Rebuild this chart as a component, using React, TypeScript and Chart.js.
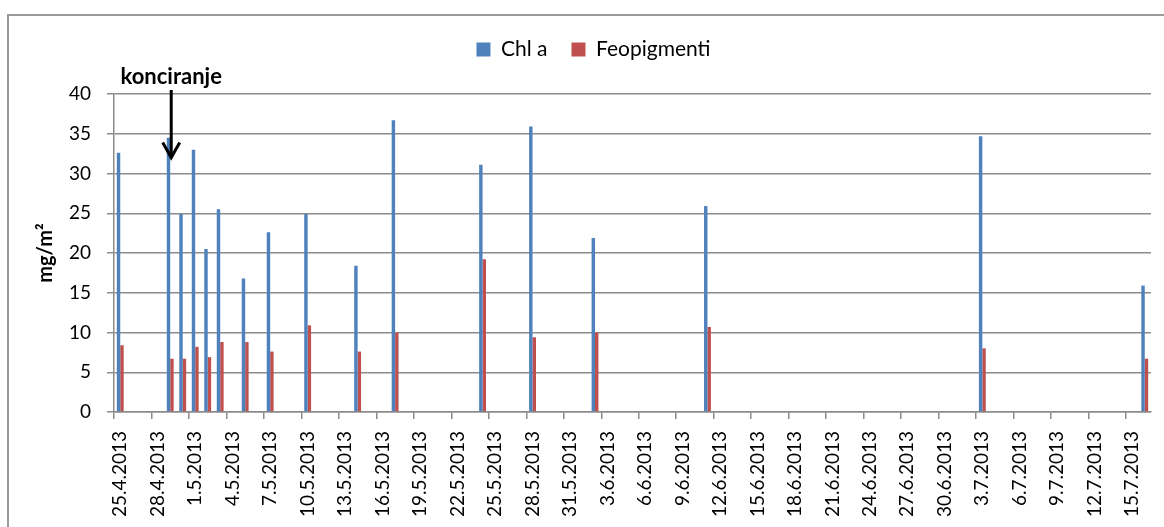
import React, { useEffect, useRef } from 'react';
import { Chart, registerables } from 'chart.js';

Chart.register(...registerables);

// First day of the daily date axis and number of days shown
const START_YEAR = 2013;
const START_MONTH = 4; // April
const START_DAY = 25;
const DAY_COUNT = 83; // 25.4.2013 .. 16.7.2013

// Sampling dates and measured values (mg/m²)
const sampleDates = [
  '25.4.2013', '29.4.2013', '30.4.2013', '1.5.2013', '2.5.2013', '3.5.2013',
  '5.5.2013', '7.5.2013', '10.5.2013', '14.5.2013', '17.5.2013', '24.5.2013',
  '28.5.2013', '2.6.2013', '11.6.2013', '3.7.2013', '16.7.2013',
];
const chlaValues = [
  32.6, 34.5, 24.9, 33.0, 20.5, 25.5, 16.8, 22.6, 24.9, 18.4, 36.7, 31.1,
  35.9, 21.9, 25.9, 34.7, 15.9,
];
const feoValues = [
  8.4, 6.7, 6.7, 8.2, 6.9, 8.8, 8.8, 7.6, 10.9, 7.6, 10.0, 19.2,
  9.4, 10.0, 10.7, 8.0, 6.7,
];

const seriesNames = ['Chl a', 'Feopigmenti'];
const seriesColors = ['#4F81BD', '#C0504D'];

// y axis
const Y_MIN = 0;
const Y_MAX = 40;
const Y_STEP = 5;
const yTitle = 'mg/m²';

// annotation
const annotationText = 'konciranje';
const annotationDate = '29.4.2013';
const annotationArrowTop = 40.5;
const annotationArrowTip = 32;
const annotationTextBaseline = 41.2;

const LABEL_EVERY = 3;

function buildDayLabels(): string[] {
  const out: string[] = [];
  for (let i = 0; i < DAY_COUNT; i++) {
    const d = new Date(Date.UTC(START_YEAR, START_MONTH - 1, START_DAY + i));
    out.push(`${d.getUTCDate()}.${d.getUTCMonth() + 1}.${d.getUTCFullYear()}`);
  }
  return out;
}

const FONT = 'Lato, "Liberation Sans", sans-serif';
const GRID = '#8c8c8c';
const LEGEND_HEIGHT = 79;
const LEGEND_SHIFT = 18;

export default function App() {
  const canvasRef = useRef<HTMLCanvasElement | null>(null);

  useEffect(() => {
    const canvas = canvasRef.current;
    if (!canvas) return;
    const dayLabels = buildDayLabels();
    const toSeries = (vals: number[]) =>
      dayLabels.map((lab) => {
        const k = sampleDates.indexOf(lab);
        return k >= 0 ? vals[k] : null;
      });

    const legendLayoutPlugin = {
      id: 'legendLayout',
      afterInit(chart: any) {
        const legend = chart.legend;
        if (!legend) return;
        const orig = legend.fit.bind(legend);
        legend.fit = function () {
          orig();
          this.height = LEGEND_HEIGHT;
        };
      },
      afterLayout(chart: any) {
        const legend = chart.legend;
        if (!legend) return;
        legend.left += LEGEND_SHIFT;
        legend.right += LEGEND_SHIFT;
      },
    };

    const annotationPlugin = {
      id: 'konciranje',
      afterDatasetsDraw(chart: any) {
        const { ctx, scales } = chart;
        const xs = scales.x;
        const ys = scales.y;
        const idx = dayLabels.indexOf(annotationDate);
        const x = xs.getPixelForValue(idx) + 1;
        const yTop = ys.getPixelForValue(annotationArrowTop);
        const yTip = ys.getPixelForValue(annotationArrowTip);
        const yText = ys.getPixelForValue(annotationTextBaseline);
        ctx.save();
        ctx.fillStyle = '#000';
        ctx.font = `bold 22px ${FONT}`;
        ctx.textAlign = 'center';
        ctx.textBaseline = 'alphabetic';
        ctx.fillText(annotationText, x, yText);
        ctx.strokeStyle = '#000';
        ctx.lineWidth = 3;
        ctx.beginPath();
        ctx.moveTo(x, yTop);
        ctx.lineTo(x, yTip - 1);
        ctx.stroke();
        ctx.beginPath();
        ctx.moveTo(x - 8.5, yTip - 15);
        ctx.lineTo(x, yTip);
        ctx.lineTo(x + 8.5, yTip - 15);
        ctx.stroke();
        ctx.restore();
      },
    };

    const chart = new Chart(canvas, {
      type: 'bar',
      data: {
        labels: dayLabels,
        datasets: [
          {
            label: seriesNames[0],
            data: toSeries(chlaValues),
            backgroundColor: seriesColors[0],
            borderWidth: 0,
            barPercentage: 1,
            categoryPercentage: 0.55,
          },
          {
            label: seriesNames[1],
            data: toSeries(feoValues),
            backgroundColor: seriesColors[1],
            borderWidth: 0,
            barPercentage: 1,
            categoryPercentage: 0.55,
          },
        ],
      },
      options: {
        responsive: false,
        animation: false,
        layout: { padding: { top: 15, right: 13, left: 0, bottom: 0 } },
        plugins: {
          legend: {
            display: true,
            position: 'top',
            labels: {
              boxWidth: 14,
              boxHeight: 14,
              padding: 24,
              color: '#000',
              font: { family: FONT, size: 21 },
            },
          },
          tooltip: { enabled: false },
        },
        scales: {
          x: {
            type: 'category',
            offset: true,
            afterFit: (scale: any) => {
              scale.height = 115;
              scale.paddingRight = 0;
              scale.paddingLeft = 0;
            },
            grid: {
              display: true,
              offset: true,
              drawOnChartArea: false,
              drawTicks: true,
              tickLength: 7,
              lineWidth: 1.5,
              tickColor: (ctx: any) => (ctx.index % LABEL_EVERY === 0 ? GRID : 'rgba(0,0,0,0)'),
              color: (ctx: any) => (ctx.index % LABEL_EVERY === 0 ? GRID : 'rgba(0,0,0,0)'),
            },
            border: { display: true, color: GRID, width: 1.5 },
            ticks: {
              autoSkip: false,
              maxRotation: 90,
              minRotation: 90,
              padding: 12,
              color: '#000',
              font: { family: FONT, size: 19 },
              callback: (_v: any, i: number) => (i % LABEL_EVERY === 0 ? dayLabels[i] : ''),
            },
          },
          y: {
            min: Y_MIN,
            max: Y_MAX,
            afterFit: (scale: any) => {
              scale.width = 114;
            },
            grid: {
              color: GRID,
              lineWidth: 1.5,
              drawTicks: true,
              tickLength: 7,
            },
            border: { display: true, color: GRID, width: 1.5 },
            ticks: {
              stepSize: Y_STEP,
              padding: 16,
              color: '#000',
              font: { family: FONT, size: 19 },
            },
            title: {
              display: true,
              text: yTitle,
              color: '#000',
              font: { family: FONT, size: 20, weight: 'bold' },
              padding: { top: 34, bottom: 0 },
            },
          },
        },
      },
      plugins: [legendLayoutPlugin, annotationPlugin],
    } as any);

    return () => chart.destroy();
  }, []);

  return (
    <div
      style={{
        position: 'fixed',
        left: 0,
        top: 0,
        width: 1164,
        height: 527,
        overflow: 'hidden',
        background: '#fff',
      }}
    >
      <div
        style={{
          position: 'absolute',
          left: 7,
          top: 14,
          width: 1200,
          height: 600,
          border: '2px solid #9a9a9a',
        }}
      />
      <canvas
        ref={canvasRef}
        width={1164}
        height={527}
        style={{ position: 'absolute', left: 0, top: 0 }}
      />
    </div>
  );
}
